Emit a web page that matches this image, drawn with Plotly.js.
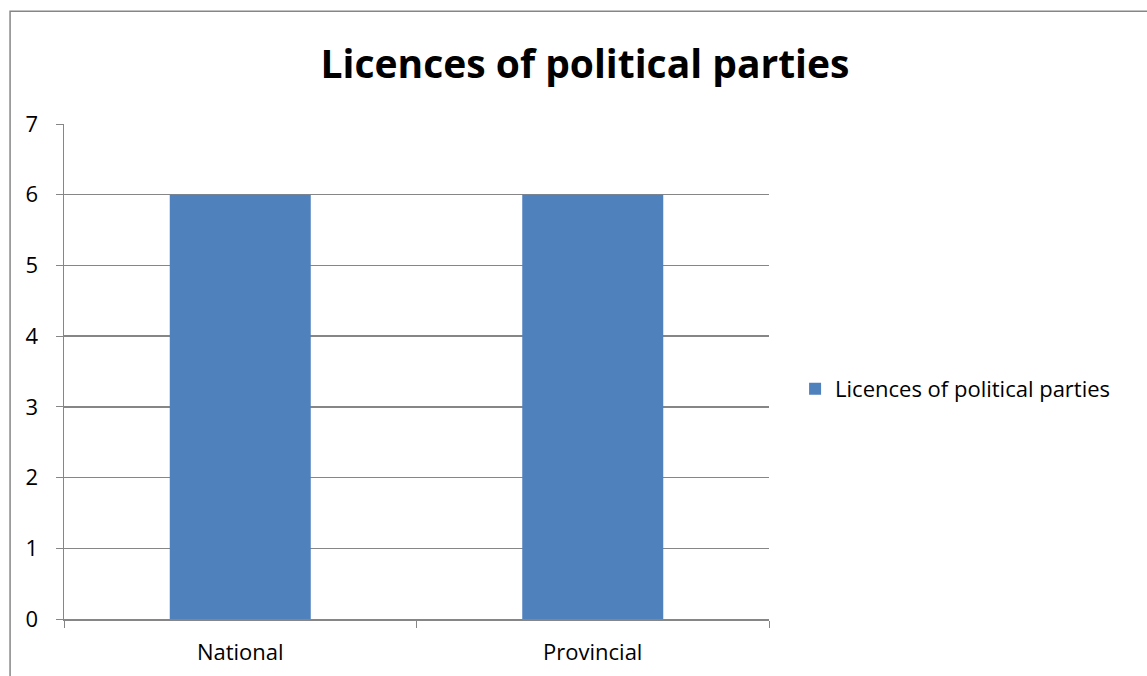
<!DOCTYPE html>
<html><head><meta charset="utf-8">
<script src="https://cdn.plot.ly/plotly-3.0.1.min.js"></script>
<style>html,body{margin:0;padding:0;background:#fff}#chart{width:1147px;height:676px}</style>
</head><body><div id="chart"></div>
<script>
const categories = ["National", "Provincial"];
const values = [6, 6];
const seriesName = "Licences of political parties";
const chartTitle = "Licences of political parties";
const yTicks = [0, 1, 2, 3, 4, 5, 6, 7];

const FONT = "'Open Sans', sans-serif";
const data = [{
  type: "bar", x: categories, y: values, name: seriesName,
  marker: {color: "#4F81BD"}, showlegend: true
}];
const layout = {
  width: 1147, height: 676,
  margin: {l: 64, r: 378, t: 124, b: 57},
  paper_bgcolor: "#fff", plot_bgcolor: "#fff",
  font: {family: FONT, size: 22, color: "#000"},
  title: {text: "<b>" + chartTitle + "</b>", font: {family: FONT, size: 39, color: "#000"},
          x: 0.51, xanchor: "center", y: 0.905, yanchor: "middle"},
  bargap: 0.6,
  xaxis: {showline: true, linecolor: "#868686", linewidth: 1.5, ticks: "outside", tickson: "boundaries",
          ticklen: 7, tickcolor: "#868686", showgrid: false, ticklabelstandoff: 13,
          tickfont: {family: FONT, size: 22}},
  yaxis: {range: [0, 7], tickvals: yTicks, showline: true, linecolor: "#868686", linewidth: 1.5,
          ticks: "outside", ticklen: 7, tickcolor: "#868686", showgrid: true, gridcolor: "#868686",
          gridwidth: 1.5, zeroline: false, ticklabelstandoff: 13, tickfont: {family: FONT, size: 22}},
  legend: {x: 1.037, xanchor: "left", y: 0.465, yanchor: "middle", font: {family: FONT, size: 22},
           itemwidth: 30},
  shapes: [{type: "rect", xref: "paper", yref: "paper", x0: -0.0765, x1: 1.7, y0: -0.3, y1: 1.228,
            line: {color: "#868686", width: 1.5}, fillcolor: "rgba(0,0,0,0)", layer: "below"}]
};
Plotly.newPlot("chart", data, layout, {displayModeBar: false, staticPlot: true});
</script></body></html>
